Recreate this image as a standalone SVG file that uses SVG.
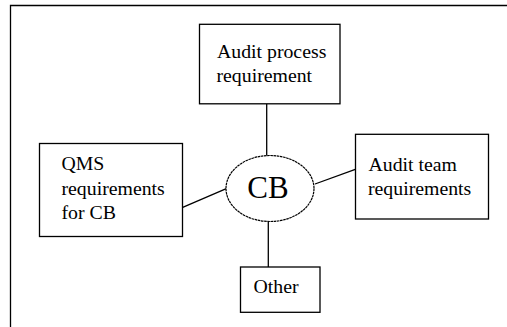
<svg xmlns="http://www.w3.org/2000/svg" width="507" height="327" viewBox="0 0 507 327">
<style>
.box{fill:#fff;stroke:#000;stroke-width:1.3}
.t{font-family:"Liberation Serif","Times New Roman",serif;font-size:19.8px;fill:#000}
.big{font-family:"Liberation Serif","Times New Roman",serif;font-size:31px;fill:#000}
.c{stroke:#000;stroke-width:1.3;fill:none}
</style>
<rect width="507" height="327" fill="#fff"/>
<g id="frame"><path d="M10.5 327V5.5H507" class="c" stroke="#333"/></g>
<g id="connectors">
<line class="c" x1="266.7" y1="104" x2="266.7" y2="155.5"/>
<line class="c" x1="268.3" y1="221.5" x2="268.3" y2="267"/>
<line class="c" x1="182.7" y1="207.3" x2="226.3" y2="188.7"/>
<line class="c" x1="315" y1="184" x2="355.3" y2="169.3"/>
</g>
<g id="node-audit-process">
<rect class="box" x="199.5" y="24.3" width="140.5" height="79.5"/>
<text class="t" x="217" y="57.5">Audit process</text>
<text class="t" x="216.5" y="81.5">requirement</text>
</g>
<g id="node-qms">
<rect class="box" x="39.5" y="143.5" width="143" height="93"/>
<text class="t" x="61.5" y="169.5">QMS</text>
<text class="t" x="61.5" y="194.5">requirements</text>
<text class="t" x="61.5" y="219">for CB</text>
</g>
<g id="node-cb">
<ellipse cx="270" cy="188.5" rx="44" ry="33" fill="#fff" stroke="#000" stroke-width="1.2" stroke-dasharray="2.6 0.6"/>
<text class="big" x="268" y="197.5" text-anchor="middle">CB</text>
</g>
<g id="node-audit-team">
<rect class="box" x="355.5" y="134.3" width="133" height="84.7"/>
<text class="t" x="368.5" y="170.5">Audit team</text>
<text class="t" x="368" y="195">requirements</text>
</g>
<g id="node-other">
<rect class="box" x="240.5" y="267" width="79.5" height="45.3"/>
<text class="t" x="253.5" y="292.5">Other</text>
</g>
</svg>
